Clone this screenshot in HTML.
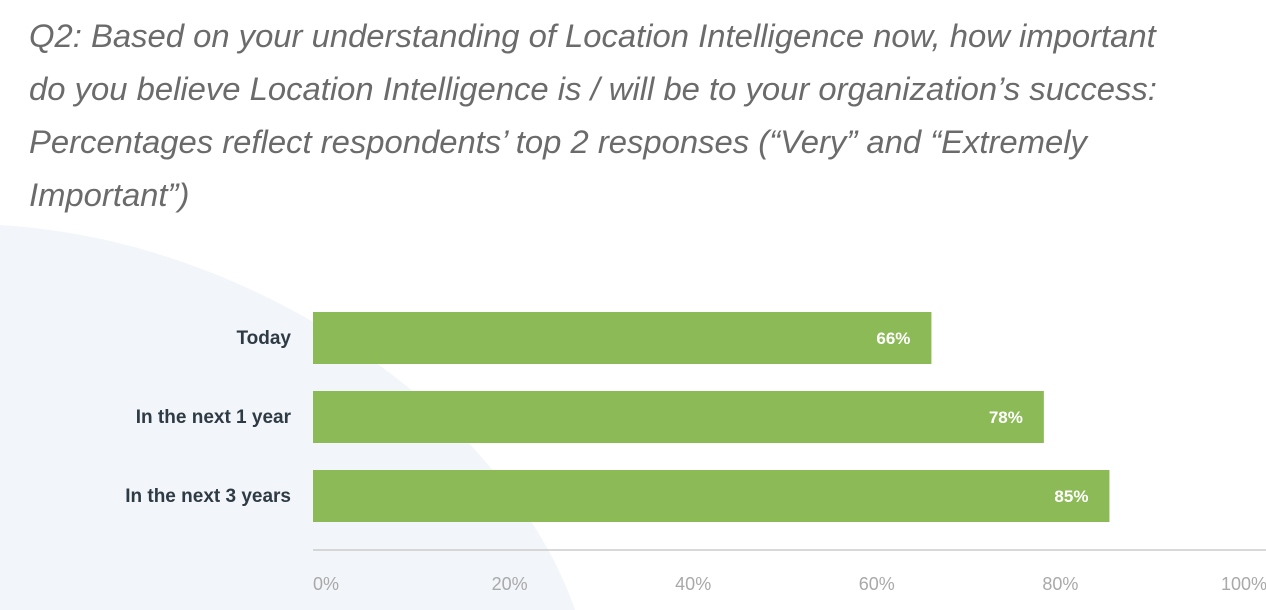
<!DOCTYPE html>
<html><head><meta charset="utf-8"><style>
body{margin:0;width:1266px;height:610px;overflow:hidden;background:#fff;font-family:"Liberation Sans",sans-serif;}
#title{position:absolute;left:29px;top:9px;width:1240px;white-space:nowrap;font-style:italic;font-size:32.8px;line-height:53px;color:#6b6b6b;margin:0;font-weight:normal;}
svg{position:absolute;left:0;top:0;}
</style></head><body>
<svg width="1266" height="610">
<path d="M0,225 C260,240 510,420 575,610 L0,610 Z" fill="#f2f5f9"/>
<g id="plot"></g>
</svg>
<h1 id="title">Q2: Based on your understanding of Location Intelligence now, how important<br>do you believe Location Intelligence is / will be to your organization’s success:<br>Percentages reflect respondents’ top 2 responses (“Very” and “Extremely<br>Important”)</h1>
<script>
const categories=["Today","In the next 1 year","In the next 3 years"];
const values=[66,78,85];
const valueLabels=["66%","78%","85%"];
const ticks=[0,20,40,60,80,100];
const tickLabels=["0%","20%","40%","60%","80%","100%"];
const X0=313,X1=1250,Y0=312,STEP=79,BH=52;
function xs(v){return X0+(X1-X0)*v/100;}
function ys(i){return Y0+i*STEP;}
const g=document.getElementById('plot');
const NS="http://www.w3.org/2000/svg";
function mk(t,a){const e=document.createElementNS(NS,t);for(const k in a)e.setAttribute(k,a[k]);g.appendChild(e);return e;}
categories.forEach((c,i)=>{
  const r=mk('rect',{x:X0,y:ys(i),width:xs(values[i])-X0,height:BH,fill:'#8cba57'});
  
  
  const l=mk('text',{x:291,y:ys(i)+BH/2+6,'text-anchor':'end','font-size':'19','font-weight':'bold',fill:'#2f3b44'});
  l.textContent=c;
  
  
  const v=mk('text',{x:xs(values[i])-21,y:ys(i)+BH/2+6,'text-anchor':'end','font-size':'17','font-weight':'bold',fill:'#fff'});
  v.textContent=valueLabels[i];
  
  
});
const ax=mk('line',{x1:X0,x2:1266,y1:550,y2:550,stroke:'#cccccc','stroke-width':1.5});


ticks.forEach((t,i)=>{
  const e=mk('text',{x:xs(t)+13-t*0.19,y:590,'text-anchor':'middle','font-size':'18',fill:'#a9a9a9'});
  e.textContent=tickLabels[i];
  
  
});
</script>
</body></html>
